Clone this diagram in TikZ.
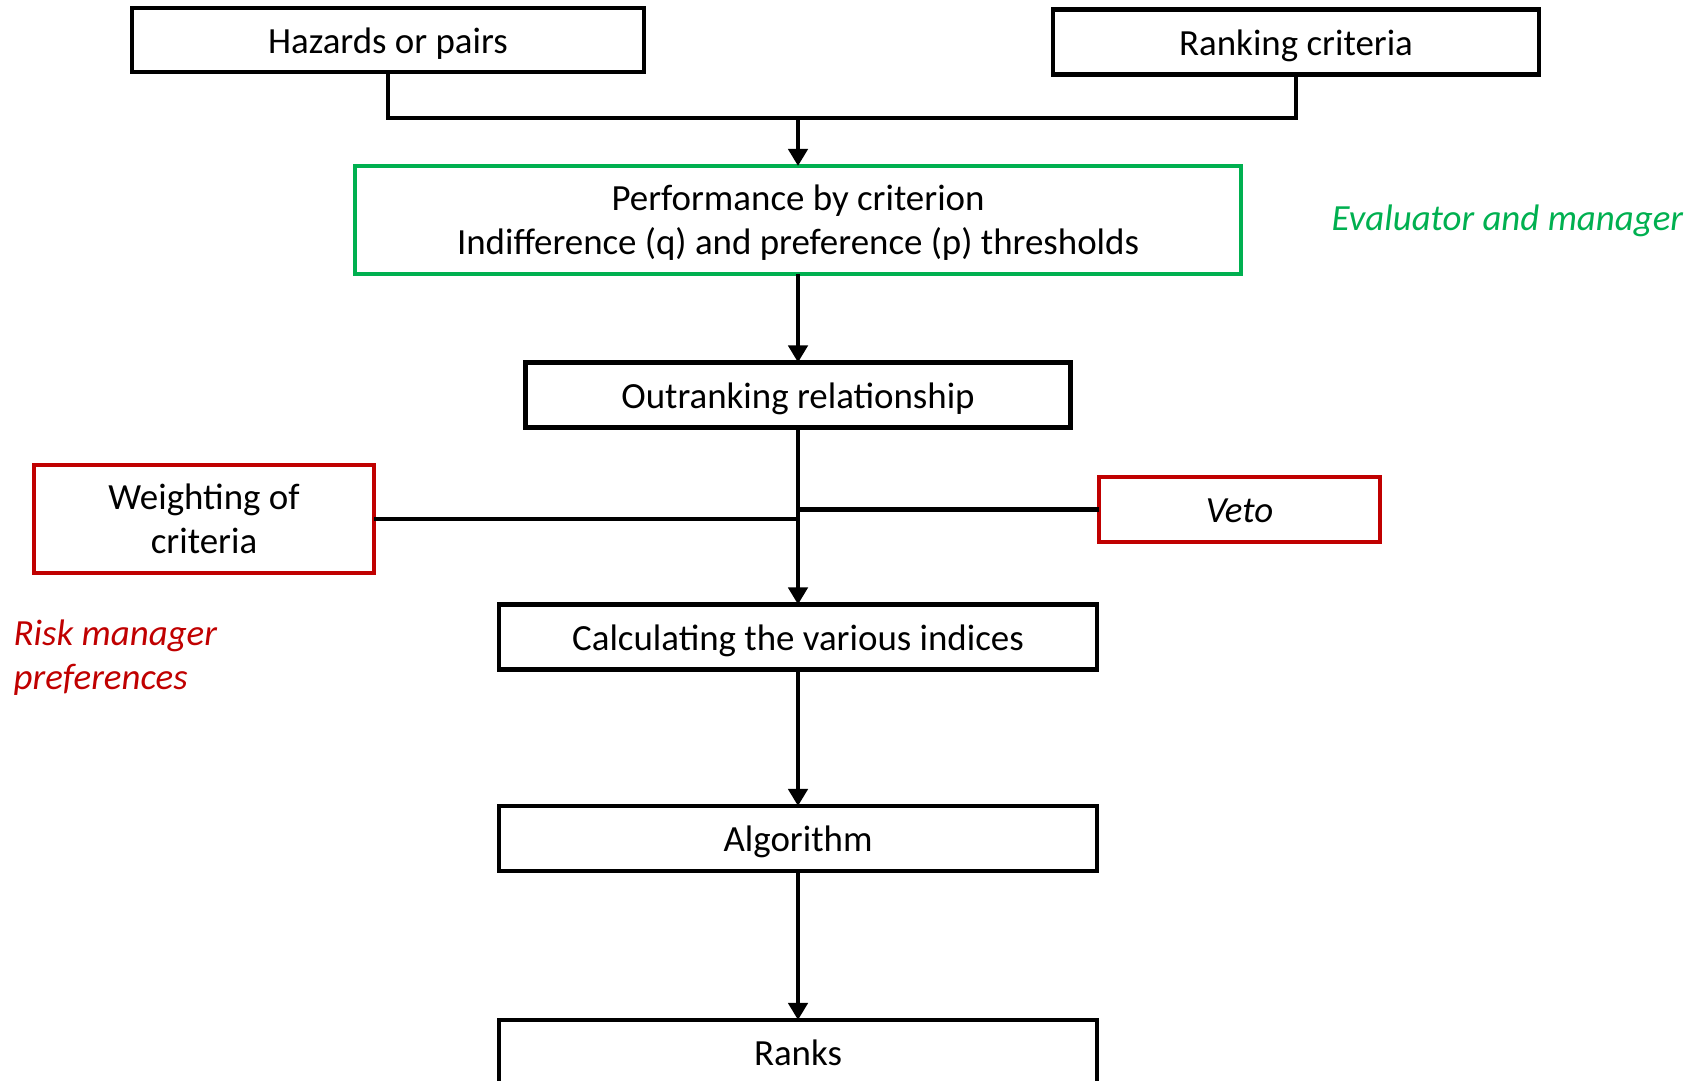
\documentclass[tikz,border=0pt]{standalone}
\usepackage{fontspec}
\setmainfont{Carlito}
\usepackage{xcolor}
\usepackage{tikz}
\usetikzlibrary{arrows.meta,positioning}

\definecolor{evalgreen}{RGB}{0,176,80}
\definecolor{riskred}{RGB}{192,0,0}

\begin{document}
\begin{tikzpicture}[
  font=\fontsize{10.5}{12.6}\selectfont,
  box/.style={draw, line width=1.3pt, align=center, inner sep=0pt, outer sep=0pt, minimum height=0.65cm, text height=8.8pt, text depth=1.2pt},
  twoline/.style={text height=, text depth=0pt},
  greenbox/.style={box, draw=evalgreen},
  redbox/.style={box, draw=riskred},
  link/.style={line width=1.3pt},
  arrow/.style={-{Triangle[length=1.7mm, width=1.9mm]}, line width=1.3pt},
  who/.style={anchor=west, align=left, inner sep=0pt, font=\fontsize{10.5}{12.6}\selectfont\itshape}
]
\useasboundingbox (0,0) rectangle (16.95,-10.81);

% inputs
\node[box, minimum width=5.12cm, minimum height=0.64cm] (haz) at (3.88,-0.40) {Hazards or pairs};
\node[box, minimum width=4.86cm] (crit) at (12.96,-0.42) {Ranking criteria};
\coordinate (join) at (7.98,-1.18);

% main chain
\node[greenbox, twoline, minimum width=8.86cm, minimum height=1.08cm] (perf) at (7.98,-2.20) {Performance by criterion\\Indifference (q) and preference (p) thresholds};
\node[box, minimum width=5.45cm, below=0.885cm of perf] (outr) {Outranking relationship};
\node[box, minimum width=5.98cm, below=1.77cm of outr] (calc) {Calculating the various indices};
\node[box, minimum width=5.98cm, below=1.365cm of calc] (algo) {Algorithm};
\node[box, minimum width=5.98cm, below=1.49cm of algo] (ranks) {Ranks};

% side inputs
\node[redbox, twoline, minimum width=3.40cm, minimum height=1.08cm] (weight) at (2.04,-5.19) {Weighting of\\criteria};
\node[redbox, minimum width=2.81cm] (veto) at (12.395,-5.095) {\itshape Veto};

% who decides
\node[who, text=evalgreen] (evaluator) at (13.31,-2.21) {Evaluator and manager};
\node[who, text=riskred] (riskman) at (0.13,-6.58) {Risk manager\\preferences};

% connectors
\draw[link] (haz.south) |- (join) -| (crit.south);
\draw[arrow] (join) -- (perf.north);
\draw[arrow] (perf.south) -- (outr.north);
\draw[arrow] (outr.south) -- (calc.north);
\draw[link] (weight.east) -- (weight.east -| outr.south);
\draw[link] (veto.west) -- (veto.west -| outr.south);
\draw[arrow] (calc.south) -- (algo.north);
\draw[arrow] (algo.south) -- (ranks.north);
\end{tikzpicture}
\end{document}
